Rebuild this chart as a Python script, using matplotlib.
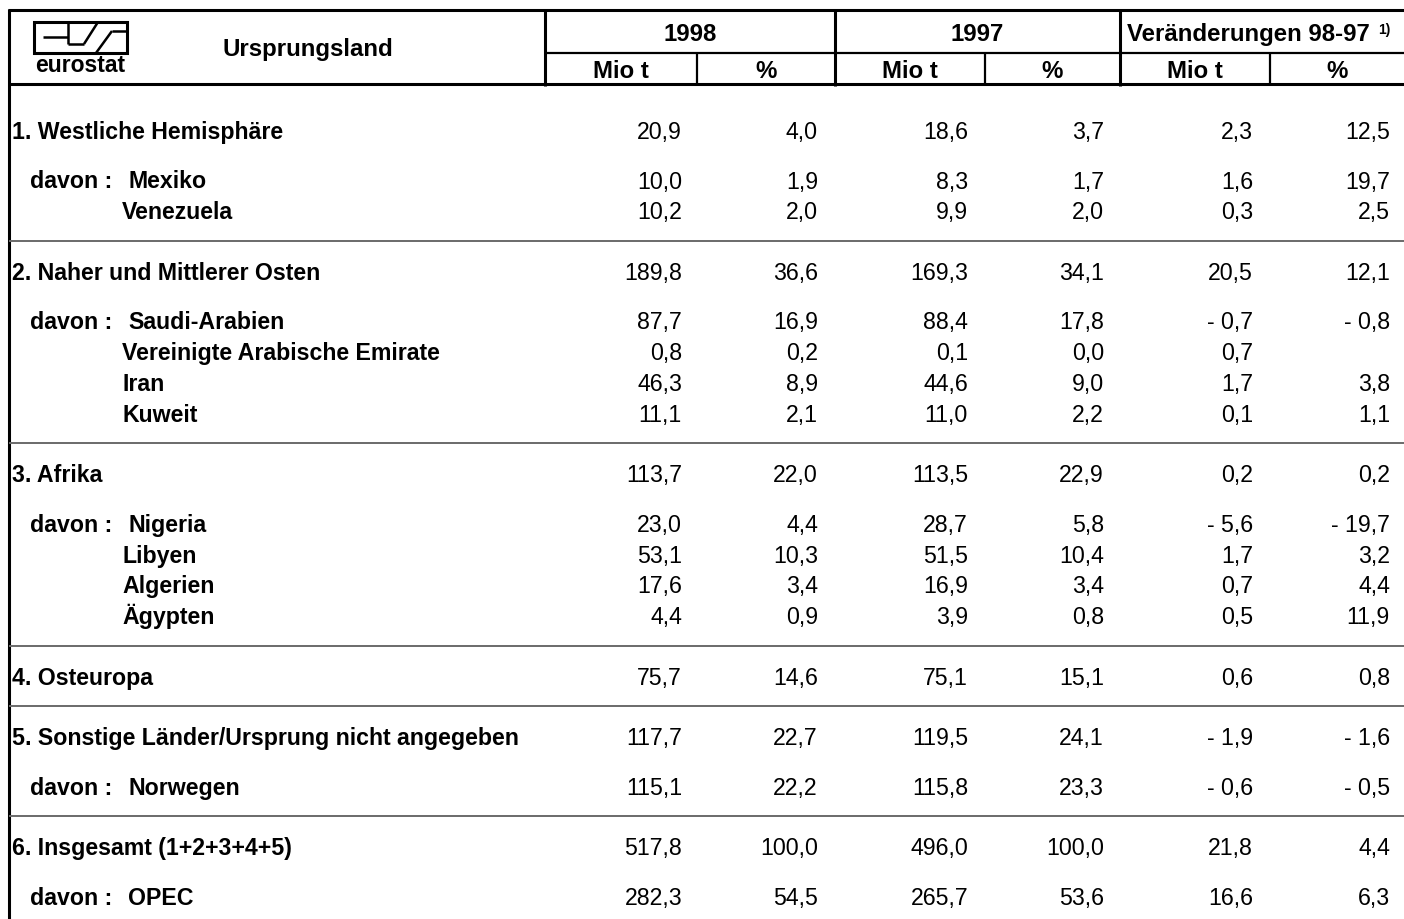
import matplotlib.pyplot as plt

plt.rcParams['font.family'] = ['Liberation Sans', 'DejaVu Sans']

# ------------------------------------------------------------------
# Daten: Rohöleinfuhren nach Ursprungsland (Mio t und %)
# ------------------------------------------------------------------
laender = ['1. Westliche Hemisphäre', 'Mexiko', 'Venezuela',
           '2. Naher und Mittlerer Osten', 'Saudi-Arabien',
           'Vereinigte Arabische Emirate', 'Iran', 'Kuweit',
           '3. Afrika', 'Nigeria', 'Libyen', 'Algerien', 'Ägypten',
           '4. Osteuropa',
           '5. Sonstige Länder/Ursprung nicht angegeben', 'Norwegen',
           '6. Insgesamt (1+2+3+4+5)', 'OPEC']
# h = Gruppe, d = "davon :" Zeile, s = weitere Unterzeile
art = ['h', 'd', 's', 'h', 'd', 's', 's', 's', 'h', 'd', 's', 's', 's',
       'h', 'h', 'd', 'h', 'd']

mio_98 = [20.9, 10.0, 10.2, 189.8, 87.7, 0.8, 46.3, 11.1, 113.7, 23.0, 53.1,
          17.6, 4.4, 75.7, 117.7, 115.1, 517.8, 282.3]
pct_98 = [4.0, 1.9, 2.0, 36.6, 16.9, 0.2, 8.9, 2.1, 22.0, 4.4, 10.3, 3.4, 0.9,
          14.6, 22.7, 22.2, 100.0, 54.5]
mio_97 = [18.6, 8.3, 9.9, 169.3, 88.4, 0.1, 44.6, 11.0, 113.5, 28.7, 51.5,
          16.9, 3.9, 75.1, 119.5, 115.8, 496.0, 265.7]
pct_97 = [3.7, 1.7, 2.0, 34.1, 17.8, 0.0, 9.0, 2.2, 22.9, 5.8, 10.4, 3.4, 0.8,
          15.1, 24.1, 23.3, 100.0, 53.6]
diff_mio = [2.3, 1.6, 0.3, 20.5, -0.7, 0.7, 1.7, 0.1, 0.2, -5.6, 1.7, 0.7, 0.5,
            0.6, -1.9, -0.6, 21.8, 16.6]
diff_pct = [12.5, 19.7, 2.5, 12.1, -0.8, None, 3.8, 1.1, 0.2, -19.7, 3.2, 4.4,
            11.9, 0.8, -1.6, -0.5, 4.4, 6.3]

jahre = ['1998', '1997', 'Veränderungen 98-97']
unterspalten = ['Mio t', '%']


def fmt(v):
    if v is None:
        return ''
    s = f'{abs(v):.1f}'.replace('.', ',')
    return '- ' + s if v < 0 else s


# ------------------------------------------------------------------
# Zeichenfläche in Pixelkoordinaten
# ------------------------------------------------------------------
W, H = 1404, 919
fig = plt.figure(figsize=(W / 100, H / 100), dpi=100)
ax = fig.add_axes([0, 0, 1, 1])
ax.set_xlim(0, W)
ax.set_ylim(H, 0)
ax.axis('off')

FS = 16.7    # Tabellenkörper
FSK = 17.3   # Kopfzeilen
BL = 8       # Abstand Mitte -> Grundlinie


def linie(x0, x1, y0, y1, lw=2.2, farbe='black'):
    ax.plot([x0, x1], [y0, y1], color=farbe, lw=lw, solid_capstyle='butt')


# Rahmen und Kopf
linie(8, W, 10, 10)
linie(9, 9, 9, H)
linie(545, W, 53, 53, lw=1.6)
linie(9, W, 84, 84)
for x in [545, 835, 1120]:
    linie(x, x, 10, 86)
for x in [697, 985, 1270]:
    linie(x, x, 53, 86, lw=1.6)

# Logo
ax.add_patch(plt.Rectangle((34, 22), 93, 31, fill=False, lw=2.2, ec='black'))
for (xa, ya), (xb, yb) in [((43, 37), (68, 37)), ((68, 22), (68, 44)),
                           ((68, 44), (84, 44)), ((84, 44), (98, 22)),
                           ((96, 53), (112, 31)), ((112, 31), (127, 31))]:
    linie(xa, xb, ya, yb, lw=1.8)
ax.text(80, 72, 'eurostat', fontsize=16.5, fontweight='bold', ha='center',
        va='baseline')

ax.text(308, 56, 'Ursprungsland', fontsize=FSK, fontweight='bold',
        ha='center', va='baseline')

gruppen = [(545, 835), (835, 1120), (1120, W)]
for i, (titel, (xa, xb)) in enumerate(zip(jahre, gruppen)):
    xm = (xa + xb) / 2
    if i == 2:
        ax.text(1127, 41, titel, fontsize=FSK, fontweight='bold', ha='left',
                va='baseline')
        ax.text(1378, 34, '1)', fontsize=10, fontweight='bold', ha='left',
                va='baseline')
    else:
        ax.text(xm, 41, titel, fontsize=FSK, fontweight='bold', ha='center',
                va='baseline')

sub_kanten = [545, 697, 835, 985, 1120, 1270, W]
for j in range(6):
    xm = (sub_kanten[j] + sub_kanten[j + 1]) / 2
    ax.text(xm, 78, unterspalten[j % 2], fontsize=FSK, fontweight='bold',
            ha='center', va='baseline')

# Tabellenkörper
spalten_rechts = [682, 818, 968, 1104, 1253, 1390]
spalten = [mio_98, pct_98, mio_97, pct_97, diff_mio, diff_pct]

y = None
for i, (name, k) in enumerate(zip(laender, art)):
    if y is None:
        y = 131
    elif k == 'h':
        y += 60.5
        linie(9, W, y - 31, y - 31, lw=1.4, farbe='#6a6a6a')
    elif k == 'd':
        y += 49.5
    else:
        y += 30.8

    if k == 'h':
        ax.text(12, y + BL, name, fontsize=FS, fontweight='bold',
                va='baseline')
    elif k == 'd':
        ax.text(30, y + BL, 'davon :', fontsize=FS, fontweight='bold',
                va='baseline')
        ax.text(128, y + BL, name, fontsize=FS, fontweight='bold',
                va='baseline')
    else:
        ax.text(122, y + BL, name, fontsize=FS, fontweight='bold',
                va='baseline')

    for xr, werte in zip(spalten_rechts, spalten):
        ax.text(xr, y + BL, fmt(werte[i]), fontsize=FS, ha='right',
                va='baseline')

fig.savefig('out.png', dpi=100)
